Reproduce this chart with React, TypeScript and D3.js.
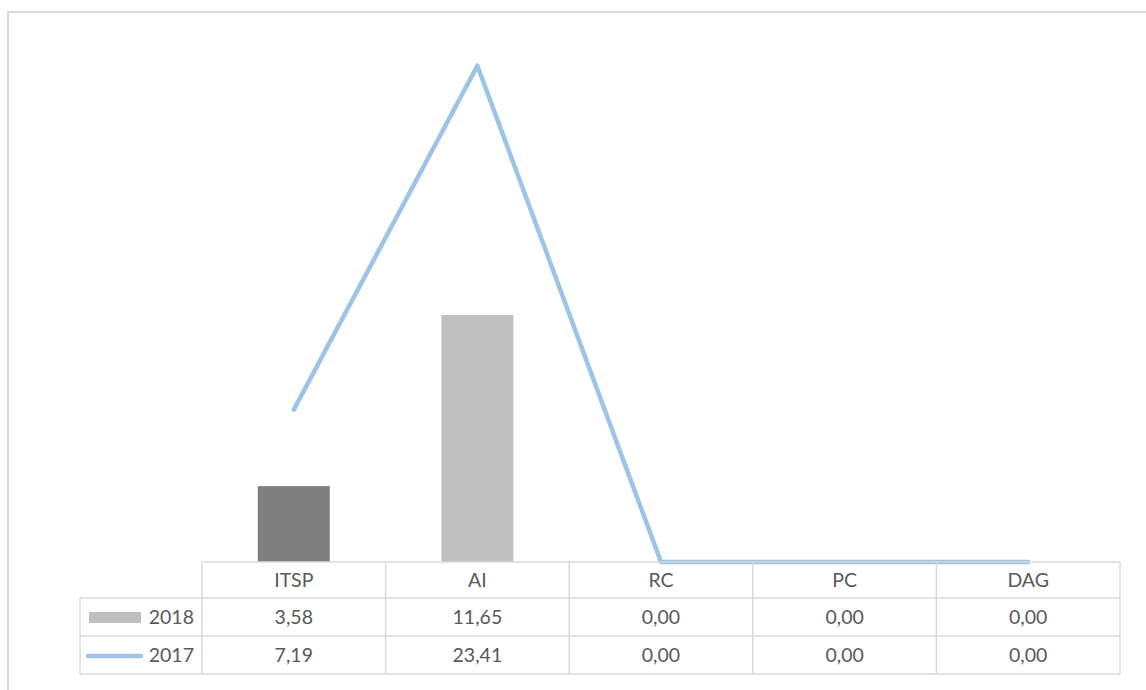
import React from "react";
import * as d3 from "d3";

const categories = ["ITSP", "AI", "RC", "PC", "DAG"];
const series2018 = [3.58, 11.65, 0, 0, 0];
const series2017 = [7.19, 23.41, 0, 0, 0];
const seriesNames = ["2018", "2017"];
const yDomain = [0, 25];

const barPalette = ["#7f7f7f", "#bfbfbf", "#bfbfbf", "#bfbfbf", "#bfbfbf"];
const lineColor = "#9dc3e6";
const gridColor = "#d9d9d9";
const textColor = "#595959";
const FONT = "Lato, 'Open Sans', 'Noto Sans', sans-serif";

const W = 1146;
const H = 690;

const locale = d3.formatLocale({ decimal: ",", thousands: ".", grouping: [3], currency: ["", "€"] });
const fmt = locale.format(".2f");

export default function App() {
  const tableLeft = 202;
  const tableRight = 1120;
  const legendLeft = 80;
  const rowTops = [562, 598, 636, 674];

  const x = d3.scaleBand<string>().domain(categories).range([tableLeft, tableRight]).padding(0);
  const y = d3.scaleLinear().domain(yDomain).range([562, 32]);
  const bw = x.bandwidth() * 0.392;

  const line = d3
    .line<number>()
    .x((_, i) => (x(categories[i]) as number) + x.bandwidth() / 2)
    .y((d) => y(d));

  const rows = [series2018, series2017];
  const fs = 19.5;

  return (
    <svg
      width={W}
      height={H}
      style={{ position: "absolute", left: 0, top: 0, background: "#fff" }}
      fontFamily={FONT}
    >
      <rect x={8} y={12} width={1160} height={700} fill="#fff" stroke={gridColor} strokeWidth={2} />

      {/* bars */}
      {series2018.map((v, i) => (
        <rect
          key={"b" + i}
          x={(x(categories[i]) as number) + x.bandwidth() / 2 - bw / 2}
          y={y(v)}
          width={bw}
          height={y(0) - y(v)}
          fill={barPalette[i]}
        />
      ))}

      {/* line */}
      <path
        d={line(series2017) || ""}
        fill="none"
        stroke={lineColor}
        strokeWidth={4.5}
        strokeLinejoin="round"
        strokeLinecap="round"
      />

      {/* data table */}
      <g stroke={gridColor} strokeWidth={1.5} fill="none">
        <line x1={tableLeft} x2={tableRight} y1={rowTops[0]} y2={rowTops[0]} />
        <line x1={legendLeft} x2={tableRight} y1={rowTops[1]} y2={rowTops[1]} />
        <line x1={legendLeft} x2={tableRight} y1={rowTops[2]} y2={rowTops[2]} />
        <line x1={legendLeft} x2={tableRight} y1={rowTops[3]} y2={rowTops[3]} />
        <line x1={legendLeft} x2={legendLeft} y1={rowTops[1]} y2={rowTops[3]} />
        {categories.map((c) => (
          <line key={"v" + c} x1={x(c) as number} x2={x(c) as number} y1={rowTops[0]} y2={rowTops[3]} />
        ))}
        <line x1={tableRight} x2={tableRight} y1={rowTops[0]} y2={rowTops[3]} />
      </g>

      {categories.map((c) => (
        <text
          key={"h" + c}
          x={(x(c) as number) + x.bandwidth() / 2}
          y={(rowTops[0] + rowTops[1]) / 2}
          dy="0.35em"
          textAnchor="middle"
          fontSize={fs}
          fill={textColor}
        >
          {c}
        </text>
      ))}

      {rows.map((r, ri) =>
        r.map((v, i) => (
          <text
            key={"t" + ri + "_" + i}
            x={(x(categories[i]) as number) + x.bandwidth() / 2}
            y={(rowTops[ri + 1] + rowTops[ri + 2]) / 2}
            dy="0.35em"
            textAnchor="middle"
            fontSize={fs}
            fill={textColor}
          >
            {fmt(v)}
          </text>
        ))
      )}

      {/* legend keys */}
      <rect x={89} y={612} width={52} height={11} fill={barPalette[1]} />
      <line x1={88} x2={141} y1={656} y2={656} stroke={lineColor} strokeWidth={4.5} strokeLinecap="round" />
      {seriesNames.map((s, i) => (
        <text
          key={"l" + s}
          x={194}
          y={(rowTops[i + 1] + rowTops[i + 2]) / 2}
          dy="0.35em"
          textAnchor="end"
          fontSize={fs}
          fill={textColor}
        >
          {s}
        </text>
      ))}
    </svg>
  );
}
